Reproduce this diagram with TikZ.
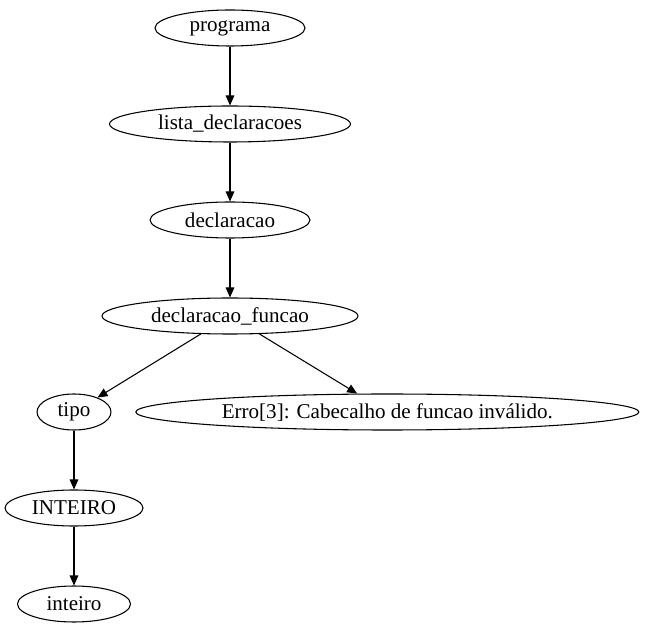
\documentclass[tikz,border=0pt]{standalone}
\usepackage{fontspec}
\setmainfont{Liberation Serif}
\usetikzlibrary{positioning, arrows.meta, shapes.geometric}

\begin{document}
\begin{tikzpicture}[node distance=44.2pt, >={Triangle[length=7.5pt, width=6.5pt]}, line width=0.8pt,
    every node/.style={font=\fontsize{15.8}{19}\selectfont},
    treenode/.style={draw, ellipse, inner sep=0pt, minimum height=27pt}]
			\useasboundingbox (0,0) rectangle (483.75pt,476.25pt);
			\node (prog) [treenode, minimum width=112.5pt] at (172.5pt,455.25pt) {programa};
			\node (lista) [treenode, minimum width=180.75pt, below=of prog] {lista\_declaracoes};
			\node (decl) [treenode, minimum width=120pt, below=of lista] {declaracao};
			\node (dfunc) [treenode, minimum width=192pt, below=of decl] {declaracao\_funcao};
			\node (tipo) [treenode, minimum width=55.5pt, below=of dfunc, xshift=-117pt] {tipo};
			\node (erro) [treenode, minimum width=377.25pt, below=of dfunc, xshift=118pt] {Erro[3]: Cabecalho de funcao inválido.};
			\node (INT) [treenode, minimum width=103.5pt, below=of tipo] {INTEIRO};
			\node (int) [treenode, minimum width=84.75pt, below=of INT] {inteiro};
			\draw[->] (prog) -- (lista);
			\draw[->] (lista) -- (decl);
			\draw[->] (decl) -- (dfunc);
			\draw[->] (dfunc) -- (tipo);
			\draw[->] (dfunc) -- (erro);
			\draw[->] (tipo) -- (INT);
			\draw[->] (INT) -- (int);
		\end{tikzpicture}
\end{document}
